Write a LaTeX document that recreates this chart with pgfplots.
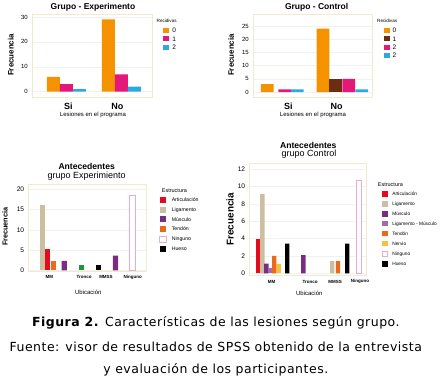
\documentclass[border=0pt]{standalone}
\usepackage{fontspec}
\setmainfont{Liberation Sans}
\newfontfamily\capfont[LetterSpace=4]{DejaVu Sans}
\usepackage{pgfplots}
\pgfplotsset{compat=1.18}
\definecolor{cOr}{RGB}{245,146,0}
\definecolor{cMg}{RGB}{228,24,120}
\definecolor{cCy}{RGB}{41,171,226}
\definecolor{cBr}{RGB}{108,45,18}
\definecolor{cRed}{RGB}{228,12,28}
\definecolor{cBei}{RGB}{204,190,160}
\definecolor{cPur}{RGB}{120,45,130}
\definecolor{cLM}{RGB}{160,110,165}
\definecolor{cTen}{RGB}{236,104,28}
\definecolor{cNer}{RGB}{250,190,70}
\definecolor{cNin}{RGB}{238,170,205}
\definecolor{cGrn}{RGB}{30,150,60}
\definecolor{axbox}{RGB}{240,234,208}
\definecolor{gridc}{RGB}{242,242,236}
\newcommand{\fs}[1]{\fontsize{#1}{#1}\selectfont}
\pgfplotsset{
  spss/.style={
    scale only axis,
    axis line style={draw=axbox, line width=0.6pt},
    major tick length=0pt,
    every axis title shift=0pt,
    ymajorgrids, grid style={draw=gridc, line width=0.4pt},
    /pgf/number format/assume math mode=true,
    yticklabel style={anchor=east, inner sep=0pt, xshift=-4pt},
    xticklabel style={anchor=center, inner sep=0pt},
    xlabel style={anchor=center},
    ylabel style={anchor=center},
    title style={anchor=center, inner sep=0pt},
    legend cell align=left,
    legend style={draw=none, fill=none, inner sep=0pt, outer sep=0pt, anchor=north west,
      nodes={inner sep=0pt, text depth=0pt}},
  },
}
\begin{document}
\begin{tikzpicture}
\useasboundingbox (0,0) rectangle (441pt,380pt);
% ---------------- top left
\begin{axis}[spss, at={(32pt,365.5pt)}, anchor=north west,
  width=120.5pt, height=83pt, xmin=32, xmax=152.5, ymin=-2.33, ymax=31.0,
  ytick={0,10,20,30}, xtick={68.3,117.3}, xticklabels={Si,No},
  yticklabel style={font=\fs{6}},
  xticklabel style={font=\bfseries\fs{9}, yshift=-8.5pt},
  title={Grupo - Experimento}, title style={at={(axis description cs:0.506,1.087)}, font=\bfseries\fs{8.5}},
  ylabel={Frecuencia}, ylabel style={at={(axis description cs:-0.175,0.512)}, font=\bfseries\fs{7.9}},
  xlabel={Lesiones en el programa}, xlabel style={at={(axis description cs:0.506,-0.215)}, font=\fs{6}},
  every axis plot/.append style={ybar, bar shift=0pt, draw=none, bar width=13,
    legend image code/.code={\path[##1] (0pt,-2.5pt) rectangle (6pt,2.5pt);}},
  legend style={at={(axis description cs:1.091,0.835)}, font=\fs{6.5}, row sep=3.3pt,
    /tikz/every odd column/.append style={column sep=3pt}},
]
\addplot[fill=cOr] coordinates {(53.3,6) (108.3,29)};
\addlegendentry{0}
\addplot[fill=cMg] coordinates {(66.3,3) (121.3,7)};
\addlegendentry{1}
\addplot[fill=cCy] coordinates {(79.3,1) (134.3,2)};
\addlegendentry{2}
\end{axis}
\node[anchor=west, font=\fs{4.6}, inner sep=0pt] at (156.5pt,359.3pt) {Recidivas};
% ---------------- top right
\begin{axis}[spss, at={(253pt,365.5pt)}, anchor=north west,
  width=119pt, height=83pt, xmin=253, xmax=372, ymin=-2.08, ymax=29.36,
  ytick={0,5,10,15,20,25}, xtick={288.3,336.7}, xticklabels={Si,No},
  yticklabel style={font=\fs{6}},
  xticklabel style={font=\bfseries\fs{9}, yshift=-8.5pt},
  title={Grupo - Control}, title style={at={(axis description cs:0.535,1.087)}, font=\bfseries\fs{8.5}},
  ylabel={Frecuencia}, ylabel style={at={(axis description cs:-0.185,0.512)}, font=\bfseries\fs{7.9}},
  xlabel={Lesiones en el programa}, xlabel style={at={(axis description cs:0.504,-0.215)}, font=\fs{6}},
  every axis plot/.append style={ybar, bar shift=0pt, draw=none, bar width=12.8,
    legend image code/.code={\path[##1] (0pt,-2.4pt) rectangle (6pt,2.4pt);}},
  legend style={at={(axis description cs:1.101,0.835)}, font=\fs{6.5}, row sep=3.5pt,
    /tikz/every odd column/.append style={column sep=2.5pt}},
]
\addplot[fill=cOr] coordinates {(267.3,3) (323,24)};
\addlegendentry{0}
\addplot[fill=cBr] coordinates {(335.8,5)};
\addlegendentry{1}
\addplot[fill=cMg] coordinates {(284.7,1) (348.7,5)};
\addlegendentry{2}
\addplot[fill=cCy] coordinates {(297.2,1) (361.7,1)};
\addlegendentry{2}
\end{axis}
\node[anchor=west, font=\fs{4.6}, inner sep=0pt] at (377pt,359.3pt) {Recidivas};
% ---------------- bottom left
\begin{axis}[spss, at={(28.3pt,196pt)}, anchor=north west,
  width=118.4pt, height=87.7pt, xmin=28.3, xmax=146.7, ymin=-0.35, ymax=21.3,
  ytick={0,5,10,15,20}, xtick={49.3,84,106,132.7}, xticklabels={MM,Tronco,MMSS,Ninguno},
  yticklabel style={font=\fs{6.6}},
  xticklabel style={font=\bfseries\fs{4.5}, yshift=-5.6pt},
  ylabel={Frecuencia}, ylabel style={at={(axis description cs:-0.197,0.513)}, font=\bfseries\fs{7.3}},
  xlabel={Ubicación}, xlabel style={at={(axis description cs:0.507,-0.235)}, font=\fs{6}},
  every axis plot/.append style={ybar, bar shift=0pt, draw=none, bar width=5.3,
    legend image code/.code={\path[##1] (0pt,-3pt) rectangle (6.5pt,3pt);}},
  legend style={at={(axis description cs:1.106,0.852)}, font=\fs{5.2}, row sep=3.7pt,
    /tikz/every odd column/.append style={column sep=5.5pt}},
]
\addplot[fill=cRed] coordinates {(47.8,5.2)};
\addlegendentry{Articulación}
\addplot[fill=cBei] coordinates {(42.5,16.1)};
\addlegendentry{Ligamento}
\addplot[fill=cPur] coordinates {(64.2,2.3) (115.5,3.6)};
\addlegendentry{Músculo}
\addplot[fill=cTen] coordinates {(53.3,2.4)};
\addlegendentry{Tendón}
\addplot[fill=white, draw=cNin, line width=0.5pt] coordinates {(132.2,18.4)};
\addlegendentry{Ninguno}
\addplot[fill=black] coordinates {(98.5,1.2)};
\addlegendentry{Hueso}
\addplot[fill=cGrn, forget plot] coordinates {(81.7,1.2)};
\end{axis}
\node[anchor=center, font=\bfseries\fs{8.6}] at (86.7pt,214pt) {Antecedentes};
\node[anchor=center, font=\fs{9}] at (86.7pt,204.3pt) {grupo Experimiento};
\node[anchor=west, font=\fs{5.5}, inner sep=0pt] at (161.7pt,189.3pt) {Estructura};
% ---------------- bottom right
\begin{axis}[spss, at={(249.3pt,216.7pt)}, anchor=north west,
  width=117.4pt, height=112.4pt, xmin=249.3, xmax=366.7, ymin=-0.28, ymax=12.66,
  ytick={0,2,4,6,8,10,12}, xtick={271.7,310,335,360}, xticklabels={MM,Tronco,MMSS,Ninguno},
  yticklabel style={font=\fs{6.6}},
  xticklabel style={font=\bfseries\fs{4.5}, yshift=-6pt},
  ylabel={Frecuencia}, ylabel style={at={(axis description cs:-0.164,0.502)}, font=\bfseries\fs{9.9}},
  xlabel={Ubicación}, xlabel style={at={(axis description cs:0.511,-0.157)}, font=\fs{6}},
  every axis plot/.append style={ybar, bar shift=0pt, draw=none, bar width=4.4,
    legend image code/.code={\path[##1] (0pt,-2.75pt) rectangle (5.6pt,2.75pt);}},
  legend style={at={(axis description cs:1.128,0.751)}, font=\fs{4.8}, row sep=4.4pt,
    /tikz/every odd column/.append style={column sep=4.5pt}},
]
\addplot[fill=cRed] coordinates {(258.3,3.9)};
\addlegendentry{Articulación}
\addplot[fill=cBei] coordinates {(262.4,9.1) (332.2,1.4)};
\addlegendentry{Ligamento}
\addplot[fill=cPur] coordinates {(266.4,1.1) (303.3,2.1)};
\addlegendentry{Músculo}
\addplot[fill=cLM] coordinates {(270.5,0.6)};
\addlegendentry{Ligamento - Músculo}
\addplot[fill=cTen] coordinates {(274.2,2.0) (338,1.4)};
\addlegendentry{Tendón}
\addplot[fill=cNer] coordinates {(278.3,1.1)};
\addlegendentry{Nervio}
\addplot[fill=white, draw=cNin, line width=0.5pt] coordinates {(358.7,10.7)};
\addlegendentry{Ninguno}
\addplot[fill=black] coordinates {(287.2,3.4) (347.2,3.4)};
\addlegendentry{Hueso}
\end{axis}
\node[anchor=center, font=\bfseries\fs{8.6}] at (308.3pt,235pt) {Antecedentes};
\node[anchor=center, font=\fs{9}] at (309pt,225.7pt) {grupo Control};
\node[anchor=west, font=\fs{5.5}, inner sep=0pt] at (377.7pt,195.7pt) {Estructura};
% ---------------- caption
\node[anchor=center, font=\capfont\fs{12.5}] at (215.8pt,57.3pt) {\textbf{Figura 2.} Características de las lesiones según grupo.};
\node[anchor=center, font=\capfont\fs{12.5}] at (215.8pt,33.3pt) {Fuente: visor de resultados de SPSS obtenido de la entrevista};
\node[anchor=center, font=\capfont\fs{12.5}] at (215.8pt,10pt) {y evaluación de los participantes.};
\end{tikzpicture}
\end{document}
